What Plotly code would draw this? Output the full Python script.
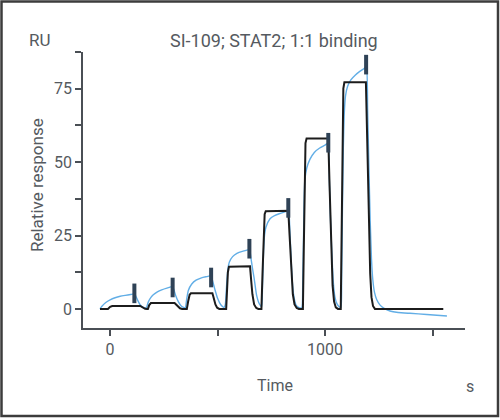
import plotly.graph_objects as go

# ---- data (time in s, response in RU) ----
data_t = [-47, -38, -20, 0, 23, 47, 70, 95, 113,
          120, 128, 138, 150, 165, 170,
          178, 190, 201, 220, 240, 264, 291,
          297, 305, 318, 330, 342, 350,
          356, 364, 380, 400, 425, 450, 470,
          477, 488, 500, 515, 530,
          536, 542, 548, 555, 570, 590, 615, 648,
          655, 662, 670, 682, 695, 705,
          709, 714, 719, 725, 744, 765, 790, 829,
          836, 842, 848, 855, 866, 880, 892,
          896, 900, 903, 906, 915, 930, 950, 975, 1000, 1015,
          1020, 1025, 1031, 1038, 1046, 1055, 1066, 1074,
          1077, 1081, 1085, 1089, 1095, 1105, 1120, 1140, 1160, 1180, 1192,
          1198, 1204, 1210, 1216, 1222, 1230, 1240, 1256, 1275, 1302, 1340, 1395, 1473, 1567]
data_v = [0.0, 0.9, 2.2, 3.1, 3.8, 4.3, 4.6, 4.9, 5.1,
          4.3, 3.0, 1.6, 0.7, 0.3, 0.6,
          2.4, 3.9, 4.8, 5.8, 6.5, 7.1, 7.6,
          6.5, 4.6, 2.4, 1.1, 0.5, 0.4,
          3.2, 6.3, 8.5, 9.8, 10.6, 11.0, 11.3,
          9.5, 6.5, 3.6, 1.4, 0.5,
          1.5, 8.0, 13.5, 16.0, 17.8, 18.9, 19.6, 20.2,
          17.5, 14.0, 10.5, 4.5, 1.6, 0.8,
          8.0, 20.0, 25.5, 27.8, 30.7, 31.8, 32.5, 33.3,
          27.0, 17.0, 9.0, 4.2, 1.2, 0.4, 0.4,
          8.0, 25.0, 38.0, 44.0, 48.0, 51.0, 53.3, 54.8, 55.8, 56.5,
          44.0, 31.0, 20.0, 9.5, 4.0, 1.8, 0.7, 0.5,
          10.0, 35.0, 55.0, 66.0, 72.5, 75.8, 78.0, 79.6, 80.8, 81.8, 82.4,
          68.0, 48.0, 30.0, 17.0, 10.0, 5.6, 3.2, 1.3, 0.2, -0.7, -1.2, -1.5, -1.9, -2.4]

fit_t = [-47, -10, 0, 10, 140, 152, 163, 172,
         176, 182, 190, 300, 312, 325, 335,
         357, 363, 370, 376, 476, 483, 490, 498, 508,
         540, 544, 548, 553, 651, 656, 662, 670, 680, 690,
         704, 709, 714, 719, 724, 829, 835, 842, 850, 858, 868, 878,
         897, 901, 905, 909, 914, 1015, 1021, 1028, 1035, 1042, 1050, 1060,
         1073, 1077, 1081, 1085, 1090, 1190, 1196, 1203, 1210, 1216, 1223, 1232, 1550]
fit_v = [0, 0, 0.7, 1.0, 1.0, 0.4, 0.05, 0,
         0, 1.3, 2.0, 2.0, 1.0, 0.2, 0,
         0, 2.5, 4.8, 5.3, 5.3, 3.5, 1.5, 0.4, 0,
         0, 6.0, 12.5, 14.4, 14.5, 10.0, 5.0, 1.5, 0.3, 0,
         0, 12.0, 26.0, 32.3, 33.3, 33.4, 25.0, 14.0, 5.0, 1.5, 0.3, 0,
         0, 20.0, 48.0, 56.5, 58.0, 58.0, 42.0, 22.0, 8.0, 2.5, 0.5, 0,
         0, 25.0, 60.0, 75.0, 77.2, 77.2, 58.0, 32.0, 12.0, 4.0, 1.0, 0, 0]

report_t = [113, 291, 470, 648, 829, 1015, 1191]
report_v = [5.3, 7.3, 10.7, 20.5, 34.4, 56.6, 83.2]

x_ticks = [0, 500, 1000, 1500]
x_labels = ["0", "", "1000", ""]
y_ticks = [0, 12.5, 25, 37.5, 50, 62.5, 75, 87.5]
y_labels = ["0", "", "25", "", "50", "", "75", ""]

FONT = "Roboto"
GREY = "#555a60"
AX = "#4a4f55"

fig = go.Figure()
fig.add_trace(go.Scatter(x=data_t, y=data_v, mode="lines",
                         line=dict(color="#62aee6", width=1.4, shape="spline", smoothing=0.5),
                         showlegend=False, hoverinfo="skip"))
fig.add_trace(go.Scatter(x=fit_t, y=fit_v, mode="lines",
                         line=dict(color="#1c1c1c", width=2),
                         showlegend=False, hoverinfo="skip"))
fig.add_trace(go.Scatter(x=report_t, y=report_v, mode="markers",
                         marker=dict(symbol="line-ns", size=14,
                                     line=dict(color="#2f4256", width=4)),
                         showlegend=False, hoverinfo="skip"))

# plot area: x 83..465 px, y 52..328 px
L, R, T, B = 83, 35, 52, 92
W, H = 500, 420
pw, ph = W - L - R, H - T - B

def px(x):
    return (x - L) / pw

def py(y):
    return (H - B - y) / ph

fig.update_layout(
    width=W, height=H,
    margin=dict(l=L, r=R, t=T, b=B),
    paper_bgcolor="white", plot_bgcolor="white",
    font=dict(family=FONT, size=15, color=GREY),
    xaxis=dict(range=[-126, 1651], tickmode="array", tickvals=x_ticks, ticktext=x_labels,
               showline=True, linecolor=AX, linewidth=1.5, ticks="outside",
               ticklen=6, tickwidth=1.5, tickcolor=AX, showgrid=False, zeroline=False,
               tickfont=dict(size=16, color=GREY, family=FONT)),
    yaxis=dict(range=[-6.5, 87.5], tickmode="array", tickvals=y_ticks, ticktext=y_labels,
               showline=True, linecolor=AX, linewidth=1.5, ticks="outside",
               ticklen=6, tickwidth=1.5, tickcolor=AX, showgrid=False, zeroline=False,
               tickfont=dict(size=16, color=GREY, family=FONT)),
    annotations=[
        dict(text="SI-109; STAT2; 1:1 binding", x=px(274), y=py(40), xref="paper", yref="paper",
             showarrow=False, xanchor="center", yanchor="middle",
             font=dict(size=18, color=GREY, family=FONT)),
        dict(text="RU", x=px(40), y=py(40), xref="paper", yref="paper",
             showarrow=False, xanchor="center", yanchor="middle",
             font=dict(size=17, color=GREY, family=FONT)),
        dict(text="Relative response", x=px(37), y=py(185), xref="paper", yref="paper",
             showarrow=False, xanchor="center", yanchor="middle", textangle=-90,
             font=dict(size=17, color=GREY, family=FONT)),
        dict(text="Time", x=px(275), y=py(385), xref="paper", yref="paper",
             showarrow=False, xanchor="center", yanchor="middle",
             font=dict(size=16, color=GREY, family=FONT)),
        dict(text="s", x=px(470), y=py(386), xref="paper", yref="paper",
             showarrow=False, xanchor="center", yanchor="middle",
             font=dict(size=16, color=GREY, family=FONT)),
    ],
    shapes=[
        dict(type="rect", xref="paper", yref="paper",
             x0=px(1.5), x1=px(498), y0=py(416), y1=py(1.5),
             line=dict(color="#3c3c3c", width=2.5), fillcolor="rgba(0,0,0,0)", layer="above"),
    ],
)

fig.write_html("out.html", config={"displayModeBar": False},
               post_script="document.body.style.margin='0';document.body.style.overflow='hidden';")
